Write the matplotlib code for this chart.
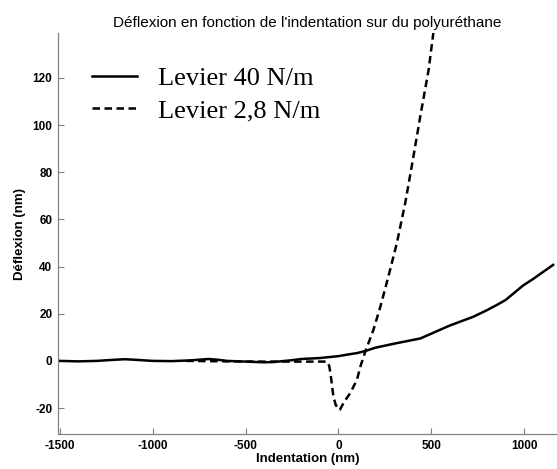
import matplotlib
matplotlib.use("Agg")
import matplotlib.pyplot as plt

# Levier 40 N/m (solid)
x_40 = [-1500, -1400, -1300, -1200, -1150, -1100, -1000, -900, -800, -750, -700, -650,
        -600, -500, -400, -350, -300, -250, -200, -100, -27, 0, 50, 100, 145, 200,
        300, 441, 548, 600, 726, 800, 855, 900, 995, 1050, 1100, 1156]
y_40 = [0.0, -0.2, 0.0, 0.5, 0.7, 0.5, 0.0, -0.1, 0.2, 0.5, 0.8, 0.5,
        0.0, -0.3, -0.6, -0.5, -0.1, 0.3, 0.8, 1.2, 1.8, 2.0, 2.7, 3.3, 4.2, 5.6,
        7.3, 9.5, 13.2, 15.0, 18.7, 21.5, 23.8, 25.8, 32.0, 34.8, 37.6, 40.7]

# Levier 2,8 N/m (dashed)
x_28 = [-820, -600, -400, -200, -61, -50, -43, -35, -27, -15, 2, 9, 30, 64, 100,
        120, 145, 188, 226, 270, 315, 360, 396, 441, 486, 512]
y_28 = [0.0, -0.2, -0.3, -0.3, -0.3, -2.0, -5.0, -10.0, -15.0, -18.5, -20.8, -20.6,
        -17.5, -13.6, -8.0, -2.0, 4.0, 13.0, 23.0, 36.0, 50.0, 67.0, 83.0, 103.7, 123.5, 139.5]

xticks = [-1500, -1000, -500, 0, 500, 1000]
yticks = [-20, 0, 20, 40, 60, 80, 100, 120]

plt.rcParams['font.family'] = ['Liberation Sans', 'DejaVu Sans']
plt.rcParams['axes.unicode_minus'] = False

fig = plt.figure(figsize=(5.57, 4.69), dpi=100)
ax = fig.add_axes([0.104, 0.0746, 0.896, 0.855])

ax.plot(x_40, y_40, color='black', linewidth=1.8, linestyle='-', label='Levier 40 N/m')
ax.plot(x_28, y_28, color='black', linewidth=1.8, linestyle=(0, (3, 1.8)), label='Levier 2,8 N/m')

ax.set_xlim(-1510, 1177)
ax.set_ylim(-31, 139)
ax.set_xticks(xticks)
ax.set_yticks(yticks)

for s in ['top', 'right']:
    ax.spines[s].set_visible(False)
for s in ['left', 'bottom']:
    ax.spines[s].set_color('#808080')
    ax.spines[s].set_linewidth(0.9)
ax.tick_params(direction='in', length=4, width=0.8, color='#808080', labelsize=8.5, pad=4)
for lab in ax.get_xticklabels() + ax.get_yticklabels():
    lab.set_fontweight('bold')

ax.set_xlabel('Indentation (nm)', fontsize=9.5, fontweight='bold', labelpad=1)
ax.set_ylabel('Déflexion (nm)', fontsize=9.5, fontweight='bold', labelpad=5)
ax.set_title("Déflexion en fonction de l'indentation sur du polyuréthane", fontsize=11, pad=4)

ax.legend(loc='upper left', bbox_to_anchor=(0.048, 0.943), frameon=False,
          prop={'family': 'Liberation Serif', 'size': 19},
          handlelength=1.7, handletextpad=0.8, labelspacing=0.34, borderaxespad=0)

fig.savefig('out.png', dpi=100)
